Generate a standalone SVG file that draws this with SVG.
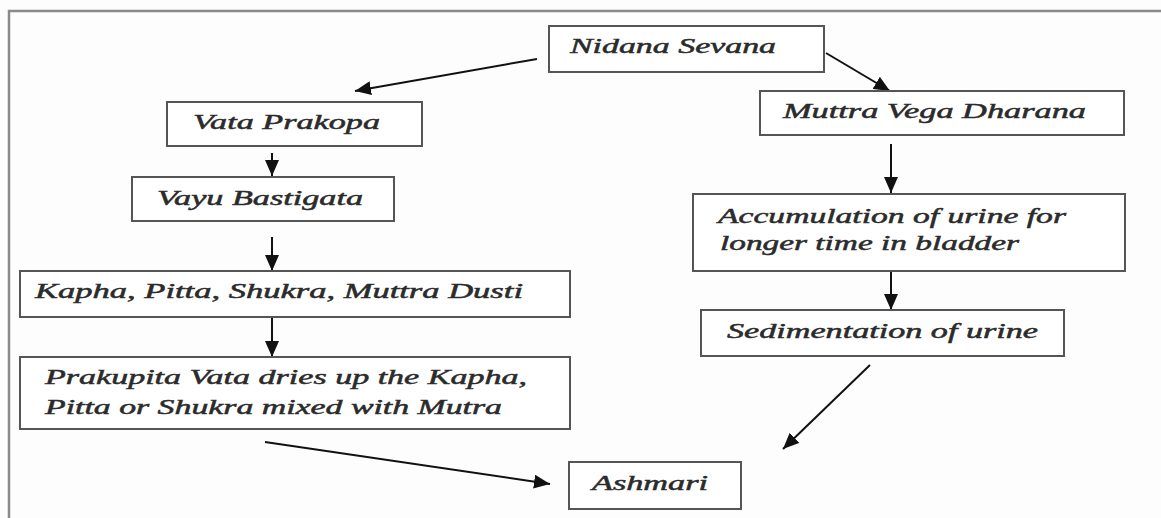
<svg xmlns="http://www.w3.org/2000/svg" width="1161" height="518" viewBox="0 0 1161 518">
<style>
.box{fill:#fff;stroke:#555;stroke-width:2}
.t{font-family:"Liberation Serif","Times New Roman",serif;font-style:italic;font-size:21px;fill:#2b2b2b;stroke:#2b2b2b;stroke-width:0.5}
.c{stroke:#111;stroke-width:2;fill:none}
</style>
<defs>
<marker id="ah" markerUnits="userSpaceOnUse" markerWidth="16" markerHeight="14" refX="16" refY="7" orient="auto">
<path d="M0,0 L16,7 L0,14 z" fill="#111"/>
</marker>
</defs>
<rect x="0" y="0" width="1161" height="518" fill="#fdfdfd"/>
<path d="M9,518 V11 H1161" fill="none" stroke="#8a8a8a" stroke-width="2.5"/>
<g id="connectors">
<line class="c" x1="537" y1="59" x2="355" y2="91" marker-end="url(#ah)"/>
<line class="c" x1="826" y1="53" x2="890" y2="91" marker-end="url(#ah)"/>
<line class="c" x1="272" y1="153" x2="272" y2="176" marker-end="url(#ah)"/>
<line class="c" x1="272" y1="237" x2="272" y2="271" marker-end="url(#ah)"/>
<line class="c" x1="272" y1="317" x2="272" y2="357" marker-end="url(#ah)"/>
<line class="c" x1="891" y1="144" x2="891" y2="193" marker-end="url(#ah)"/>
<line class="c" x1="891" y1="271" x2="891" y2="310" marker-end="url(#ah)"/>
<line class="c" x1="265" y1="442" x2="550" y2="484" marker-end="url(#ah)"/>
<line class="c" x1="870" y1="365" x2="783" y2="449" marker-end="url(#ah)"/>
</g>
<g id="nidana">
<rect class="box" x="549" y="26" width="275" height="46"/>
<text class="t" x="570" y="53" textLength="206" lengthAdjust="spacingAndGlyphs">Nidana Sevana</text>
</g>
<g id="vata">
<rect class="box" x="167" y="102" width="255" height="44"/>
<text class="t" x="193" y="129" textLength="187" lengthAdjust="spacingAndGlyphs">Vata Prakopa</text>
</g>
<g id="vayu">
<rect class="box" x="132" y="177" width="262" height="44"/>
<text class="t" x="157" y="205" textLength="206" lengthAdjust="spacingAndGlyphs">Vayu Bastigata</text>
</g>
<g id="kapha">
<rect class="box" x="20" y="271" width="550" height="46"/>
<text class="t" x="35" y="298" textLength="488" lengthAdjust="spacingAndGlyphs">Kapha, Pitta, Shukra, Muttra Dusti</text>
</g>
<g id="prakupita">
<rect class="box" x="20" y="357" width="550" height="72"/>
<text class="t" x="45" y="384" textLength="482" lengthAdjust="spacingAndGlyphs">Prakupita Vata dries up the Kapha,</text>
<text class="t" x="45" y="414" textLength="457" lengthAdjust="spacingAndGlyphs">Pitta or Shukra mixed with Mutra</text>
</g>
<g id="ashmari">
<rect class="box" x="569" y="462" width="172" height="47"/>
<text class="t" x="592" y="490" textLength="116" lengthAdjust="spacingAndGlyphs">Ashmari</text>
</g>
<g id="muttra">
<rect class="box" x="760" y="91" width="364" height="44"/>
<text class="t" x="783" y="118" textLength="303" lengthAdjust="spacingAndGlyphs">Muttra Vega Dharana</text>
</g>
<g id="accumulation">
<rect class="box" x="693" y="194" width="432" height="77"/>
<text class="t" x="718" y="223" textLength="348" lengthAdjust="spacingAndGlyphs">Accumulation of urine for</text>
<text class="t" x="720" y="250" textLength="299" lengthAdjust="spacingAndGlyphs">longer time in bladder</text>
</g>
<g id="sedimentation">
<rect class="box" x="701" y="310" width="363" height="46"/>
<text class="t" x="727" y="338" textLength="311" lengthAdjust="spacingAndGlyphs">Sedimentation of urine</text>
</g>
</svg>
